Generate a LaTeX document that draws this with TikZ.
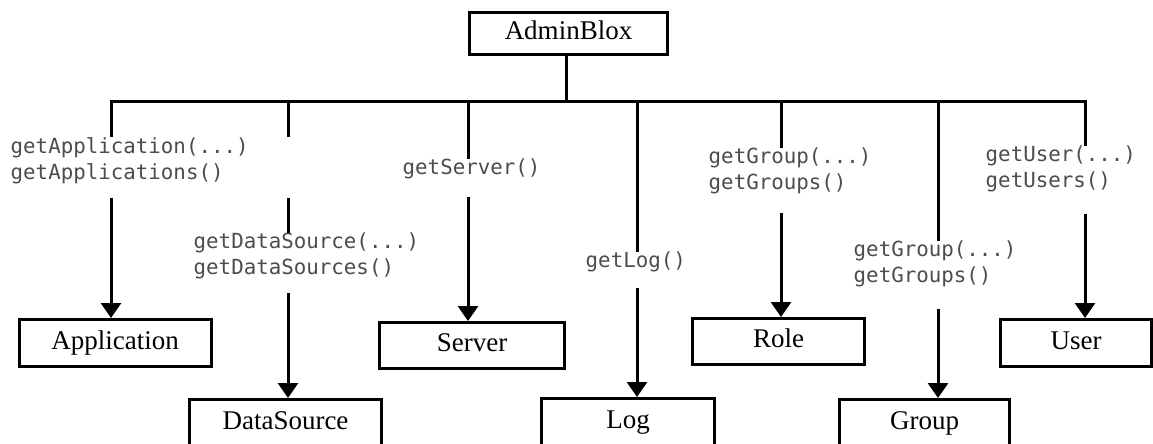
\documentclass[tikz,border=0pt]{standalone}
\usepackage{fontspec}
\setmainfont{Liberation Serif}
\newfontfamily\codefont{DejaVu Sans Mono}
\usetikzlibrary{arrows.meta}
\begin{document}
\begin{tikzpicture}[x=1pt,y=-1pt,
  box/.style={draw,line width=3pt,inner sep=0pt,text height=18.4pt,text depth=5.9pt,
    font=\fontsize{27}{30}\selectfont},
  lbl/.style={anchor=north west,inner sep=0pt,align=left,text=black!70,
    font=\codefont\fontsize{20.8}{26}\selectfont},
  conn/.style={line width=3pt},
  arr/.style={conn,-{Triangle[width=20pt,length=15pt]}}]
\useasboundingbox (0,0) rectangle (1153,444);
\clip (0,0) rectangle (1153,444);

% boxes
\node[box,minimum width=198pt,minimum height=42pt] (admin) at (568.5,33.5) {AdminBlox};
\node[box,minimum width=192pt,minimum height=47pt] (app) at (115.2,343) {Application};
\node[box,minimum width=192pt,minimum height=47pt] (ds) at (285.5,423) {DataSource};
\node[box,minimum width=185pt,minimum height=46pt] (server) at (472,345.5) {Server};
\node[box,minimum width=173pt,minimum height=47pt] (log) at (628,422) {Log};
\node[box,minimum width=172pt,minimum height=46pt] (role) at (778.5,341.5) {Role};
\node[box,minimum width=170pt,minimum height=47pt] (group) at (924.5,423) {Group};
\node[box,minimum width=151pt,minimum height=47pt] (user) at (1076,343) {User};

% labels
\node[lbl] (lA) at (10.5,137) {getApplication(...)\\getApplications()};
\node[lbl] (lD) at (193.5,233) {getDataSource(...)\\getDataSources()};
\node[lbl] (lS) at (402.5,159) {getServer()};
\node[lbl] (lL) at (585.5,252) {getLog()};
\node[lbl] (lR) at (708.5,148) {getGroup(...)\\getGroups()};
\node[lbl] (lG) at (853.5,241) {getGroup(...)\\getGroups()};
\node[lbl] (lU) at (985.5,146) {getUser(...)\\getUsers()};

% bus coordinates
\coordinate (bA) at (111,101);
\coordinate (bD) at (288,101);
\coordinate (bS) at (468,101);
\coordinate (bM) at (566,101);
\coordinate (bL) at (637,101);
\coordinate (bR) at (781,101);
\coordinate (bG) at (938,101);
\coordinate (bU) at (1085,101);

% bus and stems
\draw[conn] (bA |- lA.north) -- (bA) -- (bU) -- (bU |- lU.north);
\draw[conn] (admin.south -| bM) -- (bM);
\draw[conn] (bD) -- (bD |- lA.north);
\draw[conn] (bD |- lA.south) ++(0,14.3) -- (bD |- lD.north);
\draw[conn] (bS) -- (bS |- lS.north);
\draw[conn] (bL) -- (bL |- lL.north);
\draw[conn] (bR) -- (bR |- lR.north);
\draw[conn] (bG) -- (bG |- lG.north);

% arrows
\draw[arr] (bA |- lA.south) ++(0,14.3) -- (bA |- app.north);
\draw[arr] (bD |- lD.south) ++(0,13.3) -- (bD |- ds.north);
\draw[arr] (bS |- lS.south) ++(0,17.3) -- (bS |- server.north);
\draw[arr] (bL |- lL.south) ++(0,15.3) -- (bL |- log.north);
\draw[arr] (bR |- lR.south) ++(0,18.3) -- (bR |- role.north);
\draw[arr] (bG |- lG.south) ++(0,21.3) -- (bG |- group.north);
\draw[arr] (bU |- lU.south) ++(0,21.3) -- (bU |- user.north);
\end{tikzpicture}
\end{document}
